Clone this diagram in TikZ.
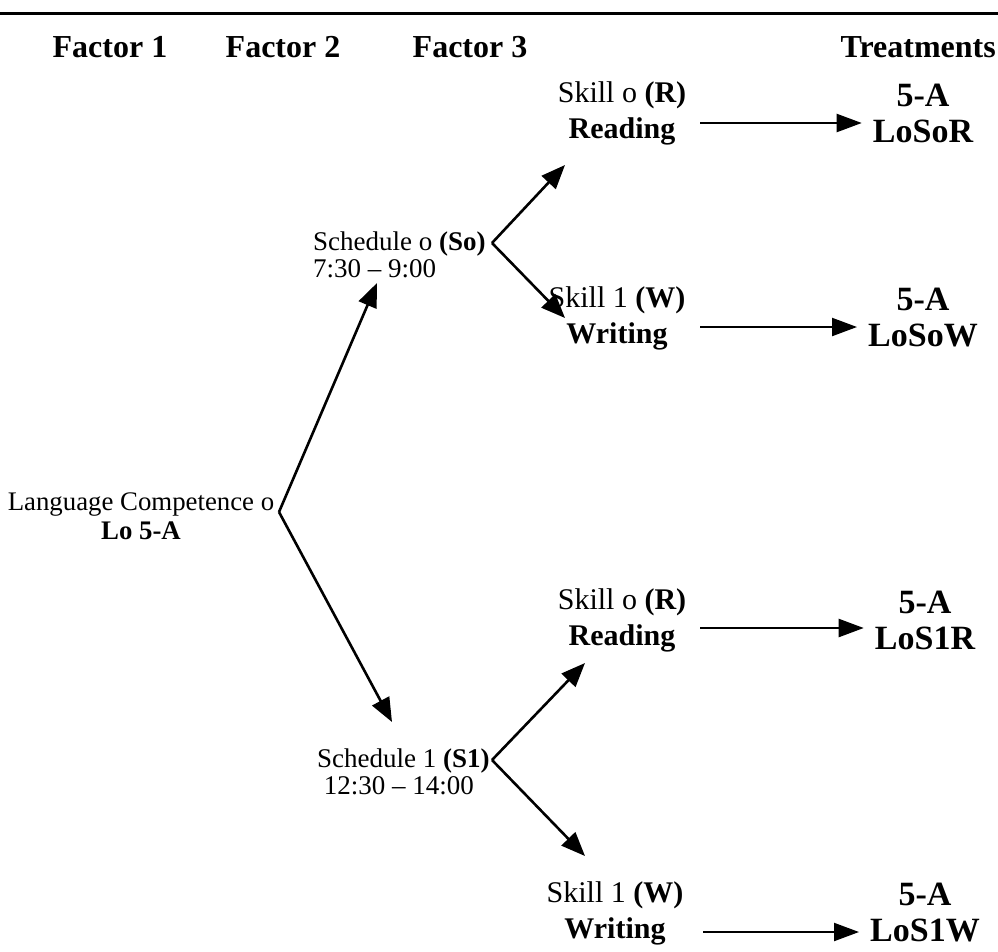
\documentclass[tikz,border=0pt]{standalone}
\usepackage{fontspec}
\setmainfont{Liberation Serif}
\usetikzlibrary{arrows.meta}
\begin{document}
\begin{tikzpicture}[x=1pt,y=-1pt,
  hdr/.style={font=\fontsize{32}{36}\selectfont\bfseries, inner sep=0pt},
  skl/.style={font=\fontsize{30}{36}\selectfont, align=center, inner sep=0pt},
  trt/.style={font=\fontsize{34}{36}\selectfont\bfseries, align=center, inner sep=0pt},
  sch/.style={font=\fontsize{27}{27}\selectfont, align=left, inner sep=0pt},
  lcs/.style={font=\fontsize{26.8}{29}\selectfont, align=center, inner sep=0pt},
  branch/.style={line width=2.6pt, -{Triangle[length=24pt,width=19pt]}},
  flow/.style={line width=2.2pt, shorten >=11pt, -{Triangle[length=25pt,width=18pt]}}]
\useasboundingbox (0,0) rectangle (998,951);
\fill[white] (0,0) rectangle (998,951);
% top rule
\coordinate (r0) at (0,13);
\coordinate (r1) at (998,13);
\draw[line width=3pt] (r0) -- (r1);
% headers
\node[hdr] (h1) at (110,47) {Factor 1};
\node[hdr] (h2) at (283,47) {Factor 2};
\node[hdr] (h3) at (470,47) {Factor 3};
\node[hdr,anchor=east] (h4) at (996,47) {Treatments};
% factor 1
\node[lcs] (lc) at (141,516) {Language Competence o\\\textbf{Lo 5-A}};
\coordinate (vLC) at (279,512);
% factor 2
\node[sch,anchor=west] (so) at (313,255) {Schedule o \textbf{(So)}\\7:30 -- 9:00};
\node[sch,anchor=west] (s1) at (317,772) {Schedule 1 \textbf{(S1)}\\\ 12:30 -- 14:00};
\coordinate (vSo) at (492,243);
\coordinate (vS1) at (492,760);
\coordinate (tSo) at (377,283);
\coordinate (tS1) at (392,722);
% factor 3
\node[skl] (r1n) at (622,113) {Skill o \textbf{(R)}\\\textbf{Reading}};
\node[skl] (w1n) at (617,318) {Skill 1 \textbf{(W)}\\\textbf{Writing}};
\node[skl] (r2n) at (622,620) {Skill o \textbf{(R)}\\\textbf{Reading}};
\node[skl] (w2n) at (615,913) {Skill 1 \textbf{(W)}\\\textbf{Writing}};
\coordinate (a1) at (565,165);
\coordinate (a2) at (565,318);
\coordinate (a3) at (585,663);
\coordinate (a4) at (585,856);
% treatments
\node[trt] (t1) at (923,113) {5-A\\LoSoR};
\node[trt] (t2) at (923,318) {5-A\\LoSoW};
\node[trt] (t3) at (925,620) {5-A\\LoS1R};
\node[trt] (t4) at (925,913) {5-A\\LoS1W};
% connectors
\draw[branch] (vLC) -- (tSo);
\draw[branch] (vLC) -- (tS1);
\draw[branch] (vSo) -- (a1);
\draw[branch] (vSo) -- (a2);
\draw[branch] (vS1) -- (a3);
\draw[branch] (vS1) -- (a4);
\coordinate (f1) at (700,123);
\coordinate (f2) at (700,327);
\coordinate (f3) at (700,628);
\coordinate (f4) at (703,932);
\draw[flow] (f1) -- (t1.west |- f1);
\draw[flow] (f2) -- (t2.west |- f2);
\draw[flow] (f3) -- (t3.west |- f3);
\draw[flow] (f4) -- (t4.west |- f4);
\end{tikzpicture}
\end{document}
